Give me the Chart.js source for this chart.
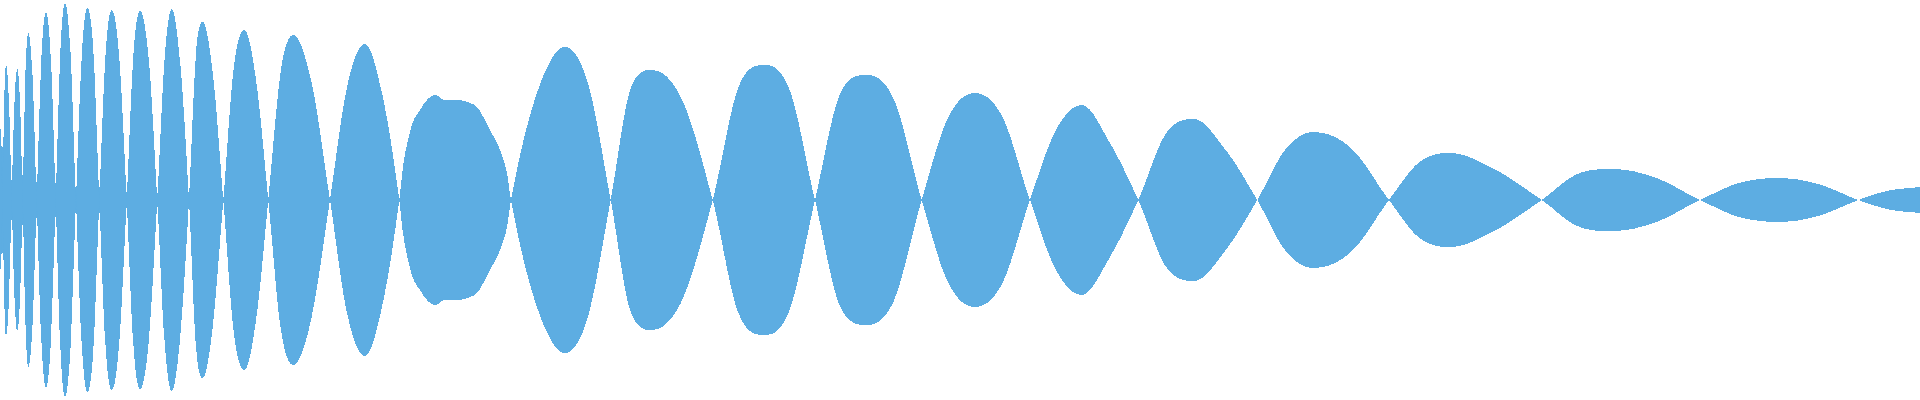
<!DOCTYPE html>
<html>
<head>
<meta charset="utf-8">
<title>Waveform</title>
<script src="https://cdn.jsdelivr.net/npm/chart.js@4/dist/chart.umd.min.js"></script>
<style>
    html, body { margin: 0; padding: 0; background: #fff; }
    #wave-wrap { width: 1920px; height: 400px; }
    /* hard pixel edges like the original waveform */
    #wave-chart { filter: url(#crisp); }
</style>
</head>
<body>
<svg width="0" height="0" style="position:absolute">
    <filter id="crisp">
        <feComponentTransfer>
            <feFuncA type="discrete" tableValues="0 1"/>
        </feComponentTransfer>
    </filter>
</svg>
<div id="wave-wrap"><canvas id="wave-chart" width="1920" height="400"></canvas></div>
<script>
// Signed amplitude (-1..1), one line per lobe:
// rise, peak, fall, zero crossing. Lobes alternate sign so the
// crossings come out pointed once mirrored.
const waveX = [
    0, 2.5,
    4.3, 6, 8.9, 11.7,
    14.5, 17.3, 20, 22.7,
    25.5, 28.3, 32.5, 36.7,
    41.4, 46, 50.9, 55.7,
    60.4, 65, 70.5, 76,
    81.7, 87.3, 93.3, 99.3,
    105.5, 111.7, 119.2, 126.7,
    133.4, 140, 148.7, 157.3,
    164.5, 171.7, 180.4, 189,
    195.9, 202.7, 213, 223.3,
    233.8, 244.3, 256.3, 268.3,
    280.8, 293.3, 311.7, 330,
    347.5, 365, 382.2, 399.3,
    403, 408, 413, 420, 427, 435, 445, 458, 470, 477, 490, 500, 507, 511,
    538, 565, 587.9, 610.7,
    631.2, 651.7, 682.2, 712.7,
    738.9, 765, 790, 815,
    840.9, 866.7, 894.2, 921.7,
    948.4, 975, 1002.5, 1030,
    1055.9, 1081.7, 1110, 1138.3,
    1166.2, 1194, 1225.7, 1257.3,
    1285, 1313, 1351, 1389,
    1419.5, 1450, 1495.9, 1541.7,
    1577.4, 1613, 1656.5, 1700,
    1739, 1778, 1818.2, 1858.3,
    1889, 1920
];
const waveAmp = [
    0.45, 0,
    -0.505, -0.675, -0.505, 0,
    0.49, 0.655, 0.49, 0,
    -0.625, -0.835, -0.625, 0,
    0.705, 0.94, 0.705, 0,
    -0.74, -0.985, -0.74, 0,
    0.715, 0.96, 0.75, 0,
    -0.725, -0.95, -0.715, 0,
    0.725, 0.945, 0.71, 0,
    -0.70, -0.955, -0.675, 0,
    0.725, 0.89, 0.625, 0,
    -0.665, -0.85, -0.59, 0,
    0.645, 0.825, 0.585, 0,
    -0.575, -0.78, -0.53, 0,
    0.165, 0.30, 0.39, 0.45, 0.50, 0.525, 0.50, 0.50, 0.485, 0.465, 0.35, 0.25, 0.135, 0,
    -0.55, -0.765, -0.585, 0,
    0.565, 0.65, 0.50, 0,
    -0.57, -0.675, -0.545, 0,
    0.54, 0.625, 0.50, 0,
    -0.415, -0.535, -0.415, 0,
    0.35, 0.475, 0.285, 0,
    -0.335, -0.405, -0.25, 0,
    0.25, 0.34, 0.26, 0,
    -0.19, -0.235, -0.15, 0,
    0.13, 0.155, 0.11, 0,
    -0.085, -0.11, -0.08, 0,
    0.047, 0.065
];

// Residual level that the early crossings never drop below
const floorX = [0, 2.5, 11.7, 22.7, 36.7, 55.7, 76, 99.3, 126.7, 157.3, 189, 223.3, 268.3, 330];
const floorAmp = [0.27, 0.265, 0.10, 0.125, 0.09, 0.085, 0.065, 0.065, 0.04, 0.035, 0.025, 0.015, 0.01, 0];

const WAVE_COLOR = '#5DADE2';

function toPoints(xs, ys, sign) {
    return xs.map((x, i) => ({ x: x, y: sign * ys[i] }));
}

const lineStyle = {
    borderWidth: 0,
    borderColor: WAVE_COLOR,
    backgroundColor: WAVE_COLOR,
    pointRadius: 0,
    cubicInterpolationMode: 'monotone'
};

new Chart(document.getElementById('wave-chart').getContext('2d'), {
    type: 'line',
    data: {
        datasets: [
            { ...lineStyle, label: 'wave', data: toPoints(waveX, waveAmp, 1), fill: '+1' },
            { ...lineStyle, label: 'wave mirror', data: toPoints(waveX, waveAmp, -1), fill: false },
            { ...lineStyle, label: 'floor', data: toPoints(floorX, floorAmp, 1), fill: '+1' },
            { ...lineStyle, label: 'floor mirror', data: toPoints(floorX, floorAmp, -1), fill: false }
        ]
    },
    options: {
        responsive: false,
        animation: false,
        events: [],
        layout: { padding: 0 },
        plugins: {
            legend: { display: false },
            tooltip: { enabled: false }
        },
        scales: {
            x: { type: 'linear', min: 0, max: 1920, display: false },
            y: { min: -1, max: 1, display: false }
        }
    }
});
</script>
</body>
</html>
